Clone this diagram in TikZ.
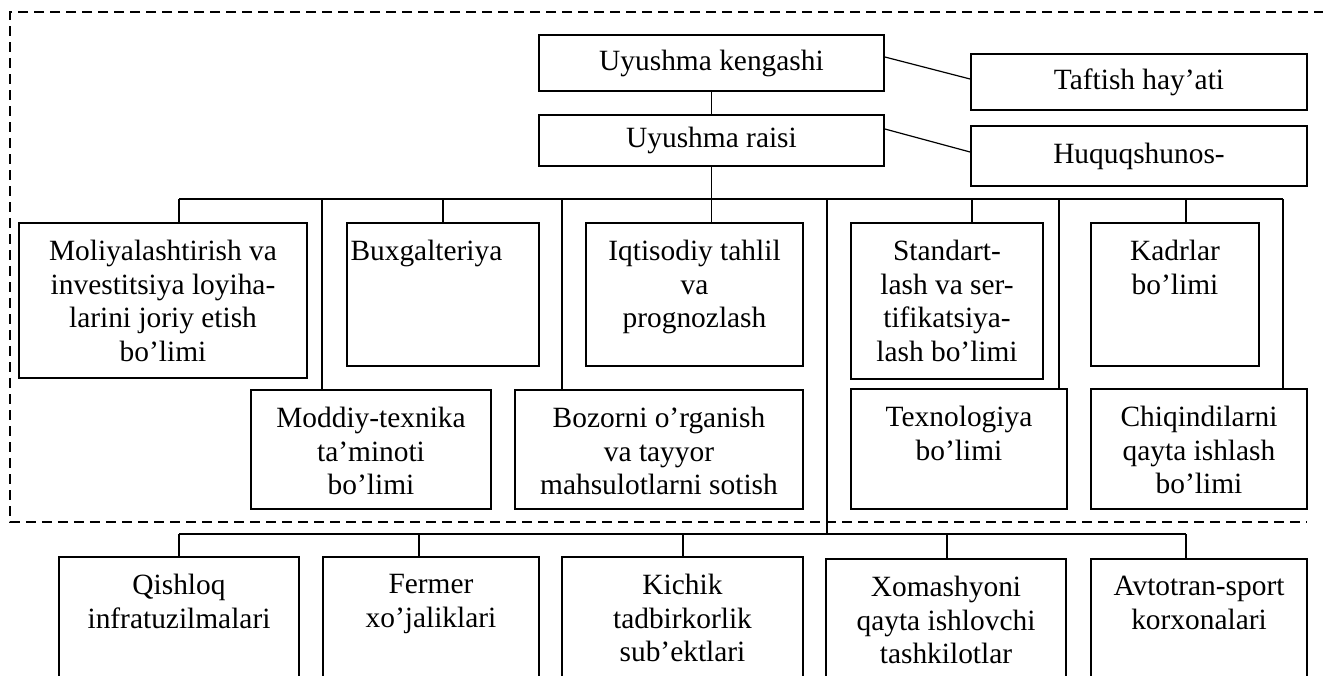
\documentclass[tikz,border=0pt]{standalone}
\usepackage{fontspec}
\setmainfont{Liberation Serif}
\usetikzlibrary{fit}

\begin{document}
\begin{tikzpicture}[x=.5pt, y=-.5pt, font={\fontsize{14.7}{16.7}\selectfont},
	unit/.style={draw, line width=.9pt, inner sep=0pt},
	caption/.style={anchor=north, align=center, inner sep=0pt, yshift=-9pt},
	title/.style={anchor=center, inner sep=0pt},
	link/.style={line width=.6pt},
	frame/.style={line width=.6pt, dash pattern=on 5pt off 3pt}]
	\path [use as bounding box, clip] (0,0) rectangle (1323,675);

	% management
	\node [unit, fit={(539,35) (884,91)},
		label={[title]center:Uyushma kengashi}] (kengash) {};
	\node [unit, fit={(971,54) (1307,110)},
		label={[title]center:Taftish hay’ati}] (taftish) {};
	\node [unit, fit={(539,115) (884,166)},
		label={[title]center:Uyushma raisi}] (raisi) {};
	\node [unit, fit={(971,126) (1307,186)},
		label={[title]center:Huquqshunos-}] (huquq) {};

	% departments, upper row
	\node [unit, fit={(19,223) (307,378)},
		label={[caption]north:Moliyalashtirish va\\investitsiya loyiha-\\larini joriy etish\\bo’limi}] (moliya) {};
	\node [unit, fit={(347,223) (539,366)},
		label={[caption, anchor=north west, xshift=2pt]north west:Buxgalteriya}] (buxgalter) {};
	\node [unit, fit={(586,223) (803,366)},
		label={[caption]north:Iqtisodiy tahlil\\va\\prognozlash}] (iqtisod) {};
	\node [unit, fit={(851,223) (1043,379)},
		label={[caption]north:Standart-\\lash va ser-\\tifikatsiya-\\lash bo’limi}] (standart) {};
	\node [unit, fit={(1091,223) (1259,366)},
		label={[caption]north:Kadrlar\\bo’limi}] (kadr) {};

	% departments, lower row
	\node [unit, fit={(251,390) (491,509)},
		label={[caption]north:Moddiy-texnika\\ta’minoti\\bo’limi}] (moddiy) {};
	\node [unit, fit={(515,390) (803,509)},
		label={[caption]north:Bozorni o’rganish\\va tayyor\\mahsulotlarni sotish}] (bozor) {};
	\node [unit, fit={(851,389) (1067,509)},
		label={[caption]north:Texnologiya\\bo’limi}] (texno) {};
	\node [unit, fit={(1091,389) (1307,509)},
		label={[caption]north:Chiqindilarni\\qayta ishlash\\bo’limi}] (chiqindi) {};

	% members
	\node [unit, fit={(59,557) (299,700)},
		label={[caption]north:Qishloq\\infratuzilmalari}] (qishloq) {};
	\node [unit, fit={(323,557) (539,700)},
		label={[caption]north:Fermer\\xo’jaliklari}] (fermer) {};
	\node [unit, fit={(562,557) (803,700)},
		label={[caption]north:Kichik\\tadbirkorlik\\sub’ektlari}] (kichik) {};
	\node [unit, fit={(826,559) (1066,700)},
		label={[caption]north:Xomashyoni\\qayta ishlovchi\\tashkilotlar}] (xomashyo) {};
	\node [unit, fit={(1091,559) (1307,700)},
		label={[caption]north:Avtotran-sport\\korxonalari}] (avto) {};

	% links
	\draw [link] (kengash) -- (raisi);
	\draw [link] ([yshift=3pt]kengash.east) -- ([yshift=1.5pt]taftish.west);
	\draw [link] ([yshift=5.75pt]raisi.east) -- ([yshift=2pt]huquq.west);
	\draw [link] (raisi) -- (raisi |- iqtisod.north);

	\coordinate (upper bus) at (179,199);
	\coordinate (lower bus) at (179,534);
	\draw [link] (upper bus) -- (upper bus -| 1283,0);
	\foreach \x/\n in {179/moliya, 443/buxgalter, 972/standart, 1186/kadr,
		322/moddiy, 562/bozor, 1059/texno, 1283/chiqindi}
		\draw [link] (upper bus -| \x,0) -- (\n.north -| \x,0);
	\draw [link] (upper bus -| 827,0) -- (lower bus -| 827,0);

	\draw [link] (lower bus) -- (lower bus -| 1186,0);
	\foreach \x/\n in {179/qishloq, 419/fermer, 683/kichik, 947/xomashyo, 1186/avto}
		\draw [link] (lower bus -| \x,0) -- (\n.north -| \x,0);

	% frame
	\draw [frame] (1340,12) -| (10,522) -- (1307,522);
\end{tikzpicture}
\end{document}
